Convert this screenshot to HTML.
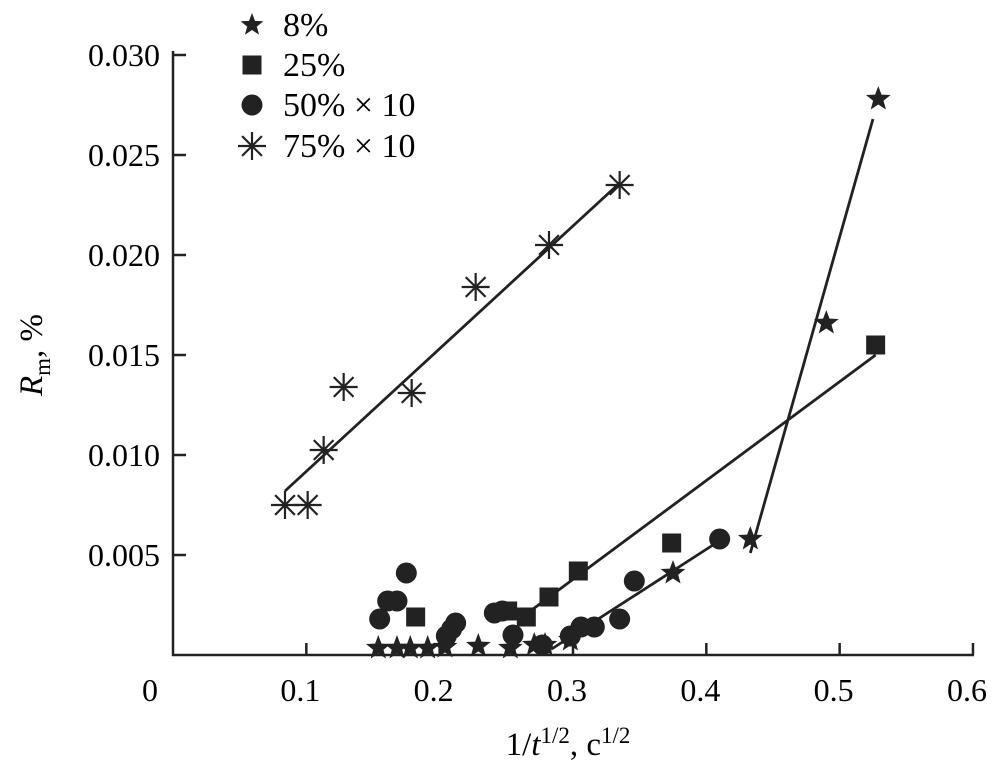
<!DOCTYPE html>
<html><head><meta charset="utf-8"><style>
html,body{margin:0;padding:0;background:#fff;}
svg{display:block;}
svg text{font-family:"Liberation Serif","Times New Roman",serif;}
</style></head><body>
<svg id="chart" width="1000" height="778" viewBox="0 0 1000 778" font-family="Liberation Serif, serif">
<g id="axes"></g>
<g id="series"></g>
<g id="legend"></g>
<text font-family="Liberation Serif, serif" transform="translate(42,355) rotate(-90)" text-anchor="middle" font-size="33"><tspan font-style="italic">R</tspan><tspan font-size="23" dy="8">m</tspan><tspan dy="-8">, %</tspan></text>
<text font-family="Liberation Serif, serif" x="568" y="755" text-anchor="middle" font-size="33">1/<tspan font-style="italic">t</tspan><tspan font-size="23" dy="-12">1/2</tspan><tspan dy="12">, c</tspan><tspan font-size="23" dy="-12">1/2</tspan></text>
</svg>
<script>
const xTicks=[0,0.1,0.2,0.3,0.4,0.5,0.6];
const xTickLabels=["0","0.1","0.2","0.3","0.4","0.5","0.6"];
const yTicks=[0.005,0.010,0.015,0.020,0.025,0.030];
const yTickLabels=["0.005","0.010","0.015","0.020","0.025","0.030"];
const s8x=[0.154,0.168,0.178,0.191,0.204,0.229,0.253,0.271,0.279,0.298,0.375,0.433,0.490,0.529];
const s8y=[0.00035,0.00035,0.00035,0.00035,0.0004,0.00045,0.00035,0.0005,0.0005,0.00075,0.0041,0.0058,0.0166,0.0278];
const s25x=[0.182,0.251,0.265,0.282,0.304,0.374,0.527];
const s25y=[0.0019,0.0022,0.0019,0.0029,0.0042,0.0056,0.0155];
const s50x=[0.155,0.161,0.168,0.175,0.205,0.209,0.212,0.241,0.247,0.255,0.277,0.298,0.306,0.316,0.335,0.346,0.410];
const s50y=[0.0018,0.0027,0.0027,0.0041,0.00095,0.0013,0.0016,0.0021,0.0022,0.001,0.0005,0.00095,0.0014,0.0014,0.0018,0.0037,0.0058];
const s75x=[0.084,0.101,0.113,0.128,0.179,0.227,0.282,0.335];
const s75y=[0.0075,0.0075,0.01025,0.0134,0.0131,0.0184,0.0205,0.0235];
const fit8x=[0.433,0.525],fit8y=[0.0051,0.0268];
const fit25x=[0.268,0.527],fit25y=[0.0022,0.0150];
const fit50x=[0.284,0.405],fit50y=[0.0003,0.0055];
const fit75x=[0.084,0.335],fit75y=[0.0082,0.0236];

const NS="http://www.w3.org/2000/svg";
const X=v=>173+v*1333.3, Y=v=>655-v*20000;
const FF="Liberation Serif, serif";
function mk(tag,attrs,parent){const e=document.createElementNS(NS,tag);for(const k in attrs)e.setAttribute(k,attrs[k]);parent.appendChild(e);return e;}
const axes=document.getElementById('axes'),ser=document.getElementById('series'),leg=document.getElementById('legend');
let e=mk('path',{d:`M173,${Y(0.0302)} V655 H${X(0.6)+1}`,fill:'none',stroke:'#222','stroke-width':2.5},axes);


xTicks.forEach((t,i)=>{
 if(i>0){const tk=mk('line',{x1:X(t),x2:X(t),y1:655,y2:643,stroke:'#222','stroke-width':2.5},axes);
 
 }
 const tx=mk('text',{x:i==0?150:X(t)-6,y:701,'text-anchor':'middle','font-size':32,'font-family':FF},axes);tx.textContent=xTickLabels[i];
 
 
});
yTicks.forEach((t,i)=>{
 const tk=mk('line',{x1:173,x2:186,y1:Y(t),y2:Y(t),stroke:'#222','stroke-width':2.5},axes);
 
 
 const tx=mk('text',{x:160,y:Y(t)+11,'text-anchor':'end','font-size':32,'font-family':FF},axes);tx.textContent=yTickLabels[i];
 
 
});
function line(xs,ys,name){const l=mk('line',{x1:X(xs[0]),y1:Y(ys[0]),x2:X(xs[1]),y2:Y(ys[1]),stroke:'#222','stroke-width':2.8},ser);
 
 }
function star(cx,cy,r,p){let d='';for(let k=0;k<10;k++){const a=-Math.PI/2+k*Math.PI/5,rr=k%2?r*0.42:r;d+=(k?'L':'M')+(cx+rr*Math.cos(a)).toFixed(1)+','+(cy+rr*Math.sin(a)).toFixed(1);}return mk('path',{d:d+'Z',fill:'#222'},p);}
function sq(cx,cy,p){return mk('rect',{x:cx-9.5,y:cy-9.5,width:19,height:19,fill:'#222'},p);}
function circ(cx,cy,p){return mk('circle',{cx:cx,cy:cy,r:10.5,fill:'#222'},p);}
function ast(cx,cy,p){const g=mk('g',{stroke:'#222','stroke-width':2.2},p);const r=14;for(let k=0;k<4;k++){const a=k*Math.PI/4;mk('line',{x1:cx-r*Math.cos(a),y1:cy-r*Math.sin(a),x2:cx+r*Math.cos(a),y2:cy+r*Math.sin(a)},g);}return g;}
line(fit8x,fit8y,'fit-line-8');line(fit25x,fit25y,'fit-line-25');line(fit50x,fit50y,'fit-line-50');line(fit75x,fit75y,'fit-line-75');
s50x.forEach((v,i)=>{const m=circ(X(v),Y(s50y[i]),ser);
 
 });
s25x.forEach((v,i)=>{const m=sq(X(v),Y(s25y[i]),ser);
 
 });
s8x.forEach((v,i)=>{const m=star(X(v),Y(s8y[i]),13,ser);
 
 });
s75x.forEach((v,i)=>{const m=ast(X(v),Y(s75y[i]),ser);
 
 });
const legLabels=["8%","25%","50% \u00d7 10","75%  \u00d7 10"];
const legY=[25,65,105,146];
const legMarks=[(y)=>star(252,y,12,leg),(y)=>sq(252,y,leg),(y)=>circ(252,y,leg),(y)=>ast(252,y,leg)];
legLabels.forEach((t,i)=>{
 const m=legMarks[i](legY[i]);
 
 
 const tx=mk('text',{x:283,y:legY[i]+11,'font-size':34,'font-family':FF,'xml:space':'preserve'},leg);tx.textContent=t;
 
 
});
</script>
</body></html>
